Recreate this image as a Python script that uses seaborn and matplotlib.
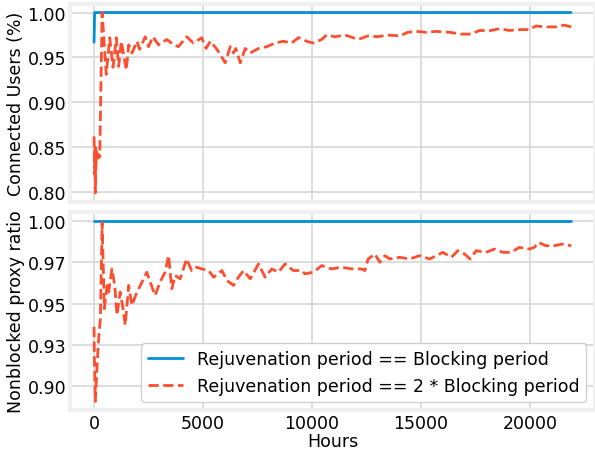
import matplotlib
matplotlib.use("Agg")
import matplotlib.pyplot as plt
import seaborn as sns
from matplotlib.ticker import FormatStrFormatter

# values (x in hours)
top_blue_x = [0, 24, 21900]
top_blue_y = [0.967, 1.0, 1.0]

top_orange_x = [0, 30, 50, 60, 90, 120, 160, 200, 260, 370, 560, 720, 870, 1020, 1130,
                1250, 1480, 1590, 1740, 1970, 2090, 2350, 2500, 2700, 2960, 3340, 3650,
                3870, 4250, 4560, 4940, 5140, 5340, 5640, 6020, 6250, 6400, 6510, 6710,
                6940, 7170, 7550, 7930, 8310, 8690, 9070, 9380, 9760, 10060, 10450, 10670,
                11060, 11520, 12120, 12580, 13040, 13420, 14030, 14410, 14790, 15250,
                15710, 16320, 16850, 17310, 17690, 18220, 18610, 19060, 19600, 19980,
                20280, 20740, 21200, 21580, 21900]
top_orange_y = [0.862, 0.820, 0.850, 0.799, 0.830, 0.845, 0.835, 0.842, 0.839, 1.000,
                0.931, 0.972, 0.939, 0.972, 0.940, 0.968, 0.936, 0.964, 0.955, 0.968,
                0.959, 0.973, 0.962, 0.973, 0.964, 0.970, 0.964, 0.962, 0.973, 0.966,
                0.972, 0.960, 0.968, 0.959, 0.944, 0.962, 0.955, 0.960, 0.944, 0.960,
                0.955, 0.960, 0.962, 0.966, 0.968, 0.966, 0.972, 0.968, 0.966, 0.970,
                0.975, 0.973, 0.975, 0.970, 0.974, 0.973, 0.975, 0.974, 0.978, 0.979,
                0.978, 0.979, 0.978, 0.976, 0.976, 0.980, 0.980, 0.982, 0.980, 0.981,
                0.981, 0.985, 0.984, 0.984, 0.986, 0.984]

bot_blue_x = [0, 21900]
bot_blue_y = [1.0, 1.0]

bot_orange_x = [0, 15, 60, 140, 210, 290, 370, 470, 600, 670, 820, 950, 1050, 1200, 1330,
                1430, 1590, 1740, 1970, 2200, 2420, 2580, 2800, 3030, 3260, 3420, 3570,
                3720, 3950, 4250, 4480, 4710, 4940, 5260, 5490, 5870, 6100, 6400, 6630,
                6860, 7170, 7550, 7850, 8160, 8460, 8770, 9150, 9530, 9680, 10070, 10450,
                10670, 10900, 11360, 11820, 12270, 12430, 12580, 12890, 13120, 13350,
                13570, 14030, 14490, 14950, 15400, 15710, 16010, 16400, 16700, 17010,
                17260, 17540, 17990, 18380, 18760, 19140, 19520, 19980, 20210, 20400,
                20740, 21120, 21500, 21900]
bot_orange_y = [0.936, 0.917, 0.891, 0.913, 0.929, 0.941, 0.999, 0.947, 0.961, 0.957,
                0.971, 0.961, 0.943, 0.957, 0.947, 0.937, 0.961, 0.949, 0.957, 0.963,
                0.969, 0.963, 0.955, 0.963, 0.969, 0.979, 0.959, 0.967, 0.965, 0.977,
                0.970, 0.972, 0.971, 0.970, 0.966, 0.970, 0.964, 0.961, 0.966, 0.970,
                0.965, 0.974, 0.966, 0.971, 0.969, 0.974, 0.970, 0.970, 0.968, 0.969,
                0.973, 0.972, 0.971, 0.972, 0.971, 0.971, 0.970, 0.977, 0.980, 0.975,
                0.979, 0.977, 0.978, 0.977, 0.979, 0.977, 0.979, 0.981, 0.978, 0.982,
                0.980, 0.977, 0.982, 0.981, 0.983, 0.981, 0.981, 0.984, 0.983, 0.984,
                0.987, 0.985, 0.985, 0.986, 0.985]

bot_yticks = [0.9, 0.925, 0.95, 0.975, 1.0]

labels = ["Rejuvenation period == Blocking period",
          "Rejuvenation period == 2 * Blocking period"]

sns.set_theme(style="whitegrid", rc={
    "axes.edgecolor": "#f0f0f0",
    "axes.linewidth": 3.0,
    "grid.color": "#dadada",
    "grid.linewidth": 1.3,
    "xtick.major.size": 0,
    "ytick.major.size": 0,
    "text.color": "black",
    "axes.labelcolor": "black",
    "xtick.color": "black",
    "ytick.color": "black",
})
plt.rcParams["font.family"] = ["DejaVu Sans"]

blue = "#008fd5"
orange = "#fc4f30"

fig, (ax1, ax2) = plt.subplots(2, 1, figsize=(5.95, 4.52), dpi=100, sharex=True)
fig.subplots_adjust(left=0.118, right=1.0, top=0.99, bottom=0.09, hspace=0.05)

sns.lineplot(x=top_blue_x, y=top_blue_y, ax=ax1, color=blue, linewidth=2, legend=False)
sns.lineplot(x=top_orange_x, y=top_orange_y, ax=ax1, color=orange, linewidth=2,
             linestyle="--", legend=False)

sns.lineplot(x=bot_blue_x, y=bot_blue_y, ax=ax2, color=blue, linewidth=2, label=labels[0])
sns.lineplot(x=bot_orange_x, y=bot_orange_y, ax=ax2, color=orange, linewidth=2,
             linestyle="--", label=labels[1])

ax1.set_ylabel("Connected Users (%)", fontsize=12.5, labelpad=2)
ax1.yaxis.set_major_formatter(FormatStrFormatter("%.2f"))
ax2.set_ylabel("Nonblocked proxy ratio", fontsize=12.5, labelpad=2)
ax2.set_yticks(bot_yticks)
ax2.yaxis.set_major_formatter(FormatStrFormatter("%.2f"))
ax2.set_xlabel("Hours", fontsize=12.5, labelpad=0)

for ax in (ax1, ax2):
    ax.tick_params(labelsize=12.5, pad=3)

ax2.legend(loc="lower right", fontsize=12.5, frameon=True, fancybox=True,
           facecolor="white", edgecolor="#d0d0d0", framealpha=1.0)

fig.savefig("out.png", dpi=100)
